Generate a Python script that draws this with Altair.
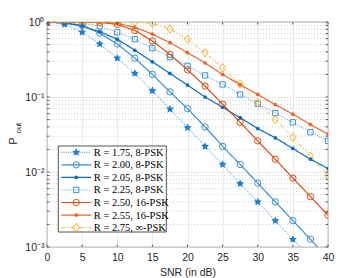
import altair as alt
import pandas as pd

snr = [0, 2.5, 5, 7.5, 10, 12.5, 15, 17.5, 20, 22.5, 25, 27.5, 30, 32.5, 35, 37.5, 40]

series_names = ["r175", "r200", "r205", "r225", "r250", "r255", "r275"]
labels = ["R = 1.75, 8-PSK", "R = 2.00, 8-PSK", "R = 2.05, 8-PSK", "R = 2.25, 8-PSK",
          "R = 2.50, 16-PSK", "R = 2.55, 16-PSK", "R = 2.75, \u221e-PSK"]

p_r175 = [1.0, 0.93, 0.73, 0.51, 0.33, 0.206, 0.121, 0.069, 0.039, 0.022, 0.0126, 0.007, 0.004, 0.00225, 0.00126, 0.0007, 0.0004]
p_r200 = [1.0, 0.985, 0.9, 0.71, 0.51, 0.33, 0.20, 0.117, 0.07, 0.04, 0.022, 0.0126, 0.0071, 0.004, 0.00225, 0.00127, 0.0007]
p_r205 = [1.0, 0.97, 0.88, 0.74, 0.59, 0.42, 0.295, 0.206, 0.144, 0.10, 0.073, 0.053, 0.038, 0.0285, 0.0206, 0.0148, 0.0111]
p_r225 = [1.0, 1.0, 0.97, 0.88, 0.73, 0.59, 0.45, 0.34, 0.26, 0.194, 0.147, 0.108, 0.081, 0.061, 0.046, 0.034, 0.026]
p_r250 = [1.0, 1.0, 1.0, 0.99, 0.93, 0.77, 0.56, 0.37, 0.23, 0.14, 0.080, 0.046, 0.026, 0.0148, 0.0083, 0.0047, 0.00265]
p_r255 = [1.0, 1.0, 1.0, 0.995, 0.96, 0.85, 0.69, 0.53, 0.39, 0.284, 0.20, 0.146, 0.108, 0.079, 0.059, 0.043, 0.032]
p_r275 = [1.0, 1.0, 1.0, 1.0, 1.0, 1.0, 0.96, 0.81, 0.59, 0.39, 0.245, 0.149, 0.084, 0.050, 0.029, 0.0163, 0.009]
all_vals = [p_r175, p_r200, p_r205, p_r225, p_r250, p_r255, p_r275]

xtick_vals = [0, 5, 10, 15, 20, 25, 30, 35, 40]
ytick_vals = [0.001, 0.01, 0.1, 1]
ytick_labels = ["10\u207b\u00b3", "10\u207b\u00b2", "10\u207b\u00b9", "10\u2070"]
yminor_vals = [m * 10.0 ** e for e in (-3, -2, -1) for m in range(2, 10)]

colors = ["#1f7fd0", "#3b8fd9", "#0a6cbf", "#3a93dd", "#dc4e14", "#e8652e", "#f0b328"]
dashes = [[1, 1.3], [1, 0], [1, 0], [1, 1.3], [1, 0], [1, 0], [4, 2, 1, 2]]
widths = [0.9, 1.2, 1.2, 0.9, 1.2, 1.2, 0.9]
STAR = "M0,-1L0.29,-0.4L0.951,-0.309L0.47,0.153L0.588,0.809L0,0.5L-0.588,0.809L-0.47,0.153L-0.951,-0.309L-0.29,-0.4Z"
DIAM = "M0,-1L0.75,0L0,1L-0.75,0Z"
shapes = [STAR, "circle", "circle", "square", "circle", "circle", DIAM]
sizes = [70, 40, 14, 28, 40, 14, 70]
filled_series = ["r175", "r205", "r255"]
open_series = ["r200", "r225", "r250", "r275"]

W, H = 281, 225
AX = "#262626"
SANS = "Liberation Sans"
SERIF = "Liberation Serif"

rows = []
for name, vals in zip(series_names, all_vals):
    for x, v in zip(snr, vals):
        rows.append({"series": name, "snr": x, "p": v})
df = pd.DataFrame(rows)

cs = alt.Scale(domain=series_names, range=colors)
ds = alt.Scale(type="ordinal", domain=series_names, range=dashes)
ws = alt.Scale(type="ordinal", domain=series_names, range=widths)
ss = alt.Scale(type="ordinal", domain=series_names, range=shapes)
zs = alt.Scale(type="ordinal", domain=series_names, range=sizes)
xs = alt.Scale(domain=[0, 40], nice=False, zero=False)
ys = alt.Scale(type="log", domain=[0.001, 1], nice=False)

label_expr = " : ".join(
    [f"datum.value < {v * 1.5} ? '{l}'" for v, l in zip(ytick_vals[:-1], ytick_labels[:-1])]
) + f" : '{ytick_labels[-1]}'"

xaxis = alt.Axis(values=xtick_vals, grid=True, gridColor="#e4e4e4", gridWidth=0.8,
                 domain=False, ticks=False, labelFont=SANS, labelFontSize=10.5,
                 labelColor=AX, labelPadding=5, labelOverlap=False, labelFlush=False,
                 title="SNR (in dB)", titleFont=SANS,
                 titleFontSize=10.5, titleFontWeight="normal", titleColor=AX, titlePadding=5)
yaxis = alt.Axis(values=ytick_vals, grid=True, gridColor="#e4e4e4", gridWidth=0.8,
                 domain=False, ticks=False, labelFont=SANS, labelFontSize=10.5,
                 labelColor=AX, labelPadding=3, labelOverlap=False, labelFlush=False,
                 labelExpr=label_expr, title=None)


def X(field):
    return alt.X(field, scale=xs, axis=xaxis)


def Y(field):
    return alt.Y(field, scale=ys, axis=yaxis)


base = alt.Chart(df)
lines = base.mark_line(clip=True).encode(
    x=X("snr:Q"), y=Y("p:Q"),
    color=alt.Color("series:N", scale=cs, legend=None),
    strokeDash=alt.StrokeDash("series:N", scale=ds, legend=None),
    strokeWidth=alt.StrokeWidth("series:N", scale=ws, legend=None),
)
pts_open = base.mark_point(filled=False, clip=True, strokeWidth=1.0, opacity=1).encode(
    x=X("snr:Q"), y=Y("p:Q"),
    color=alt.Color("series:N", scale=cs, legend=None),
    shape=alt.Shape("series:N", scale=ss, legend=None),
    size=alt.Size("series:N", scale=zs, legend=None),
).transform_filter(alt.FieldOneOfPredicate(field="series", oneOf=open_series))
pts_fill = base.mark_point(filled=True, clip=True, opacity=1).encode(
    x=X("snr:Q"), y=Y("p:Q"),
    color=alt.Color("series:N", scale=cs, legend=None),
    shape=alt.Shape("series:N", scale=ss, legend=None),
    size=alt.Size("series:N", scale=zs, legend=None),
).transform_filter(alt.FieldOneOfPredicate(field="series", oneOf=filled_series))

minor_df = pd.DataFrame({"v": yminor_vals})
minor_grid = alt.Chart(minor_df).mark_rule(color="#b8b8b8", strokeWidth=0.7, strokeDash=[1, 2]).encode(
    y=Y("v:Q"), x=alt.value(0), x2=alt.value(W))

yt_df = pd.DataFrame({"v": ytick_vals + yminor_vals})
xt_df = pd.DataFrame({"v": xtick_vals})
tk = dict(color=AX, strokeWidth=0.7)
lt = alt.Chart(yt_df).mark_rule(**tk).encode(y=Y("v:Q"), x=alt.value(0), x2=alt.value(2.5))
rt = alt.Chart(yt_df).mark_rule(**tk).encode(y=Y("v:Q"), x=alt.value(W - 2.5), x2=alt.value(W))
bt = alt.Chart(xt_df).mark_rule(**tk).encode(x=X("v:Q"), y=alt.value(H), y2=alt.value(H - 2.5))
tt = alt.Chart(xt_df).mark_rule(**tk).encode(x=X("v:Q"), y=alt.value(0), y2=alt.value(2.5))

one = pd.DataFrame({"a": [0]})
ytitle_p = alt.Chart(one).mark_text(text="P", angle=270, font=SANS, fontSize=10.5, color=AX,
                                    align="center", baseline="middle").encode(
    x=alt.value(-33), y=alt.value(119))
ytitle_s = alt.Chart(one).mark_text(text="out", angle=270, font=SANS, fontSize=7.5, color=AX,
                                    align="center", baseline="middle").encode(
    x=alt.value(-28.5), y=alt.value(106))

# legend
LX0, LX1, LY0, LY1 = 11.3, 119.3, 124, 210
leg_box = alt.Chart(one).mark_rect(fill="white", stroke=AX, strokeWidth=0.8).encode(
    x=alt.value(LX0), x2=alt.value(LX1), y=alt.value(LY0), y2=alt.value(LY1))
leg_layers = [leg_box]
for i, (name, lab) in enumerate(zip(series_names, labels)):
    ly = 130.3 + 12.55 * i
    ldf = pd.DataFrame({"series": [name], "label": [lab]})
    lc = alt.Chart(ldf)
    leg_layers.append(lc.mark_rule().encode(
        x=alt.value(14.3), x2=alt.value(44.3), y=alt.value(ly),
        color=alt.Color("series:N", scale=cs, legend=None),
        strokeDash=alt.StrokeDash("series:N", scale=ds, legend=None),
        strokeWidth=alt.StrokeWidth("series:N", scale=ws, legend=None)))
    leg_layers.append(lc.mark_point(filled=name in filled_series, strokeWidth=1.0, opacity=1).encode(
        x=alt.value(29.3), y=alt.value(ly),
        color=alt.Color("series:N", scale=cs, legend=None),
        shape=alt.Shape("series:N", scale=ss, legend=None),
        size=alt.Size("series:N", scale=zs, legend=None)))
    leg_layers.append(lc.mark_text(align="left", baseline="middle", font=SERIF, fontSize=10.5,
                                   color="black").encode(
        x=alt.value(46.8), y=alt.value(ly + 0.5), text="label:N"))

chart = alt.layer(
    minor_grid, lines, pts_open, pts_fill, lt, rt, bt, tt, ytitle_p, ytitle_s, *leg_layers
).properties(
    width=W, height=H,
    autosize=alt.AutoSizeParams(type="none"),
    padding={"left": 39, "top": 14, "right": 26, "bottom": 31},
).configure_view(stroke=AX, strokeWidth=0.8)

chart.save("out.html", embed_options={"renderer": "svg", "actions": False})
